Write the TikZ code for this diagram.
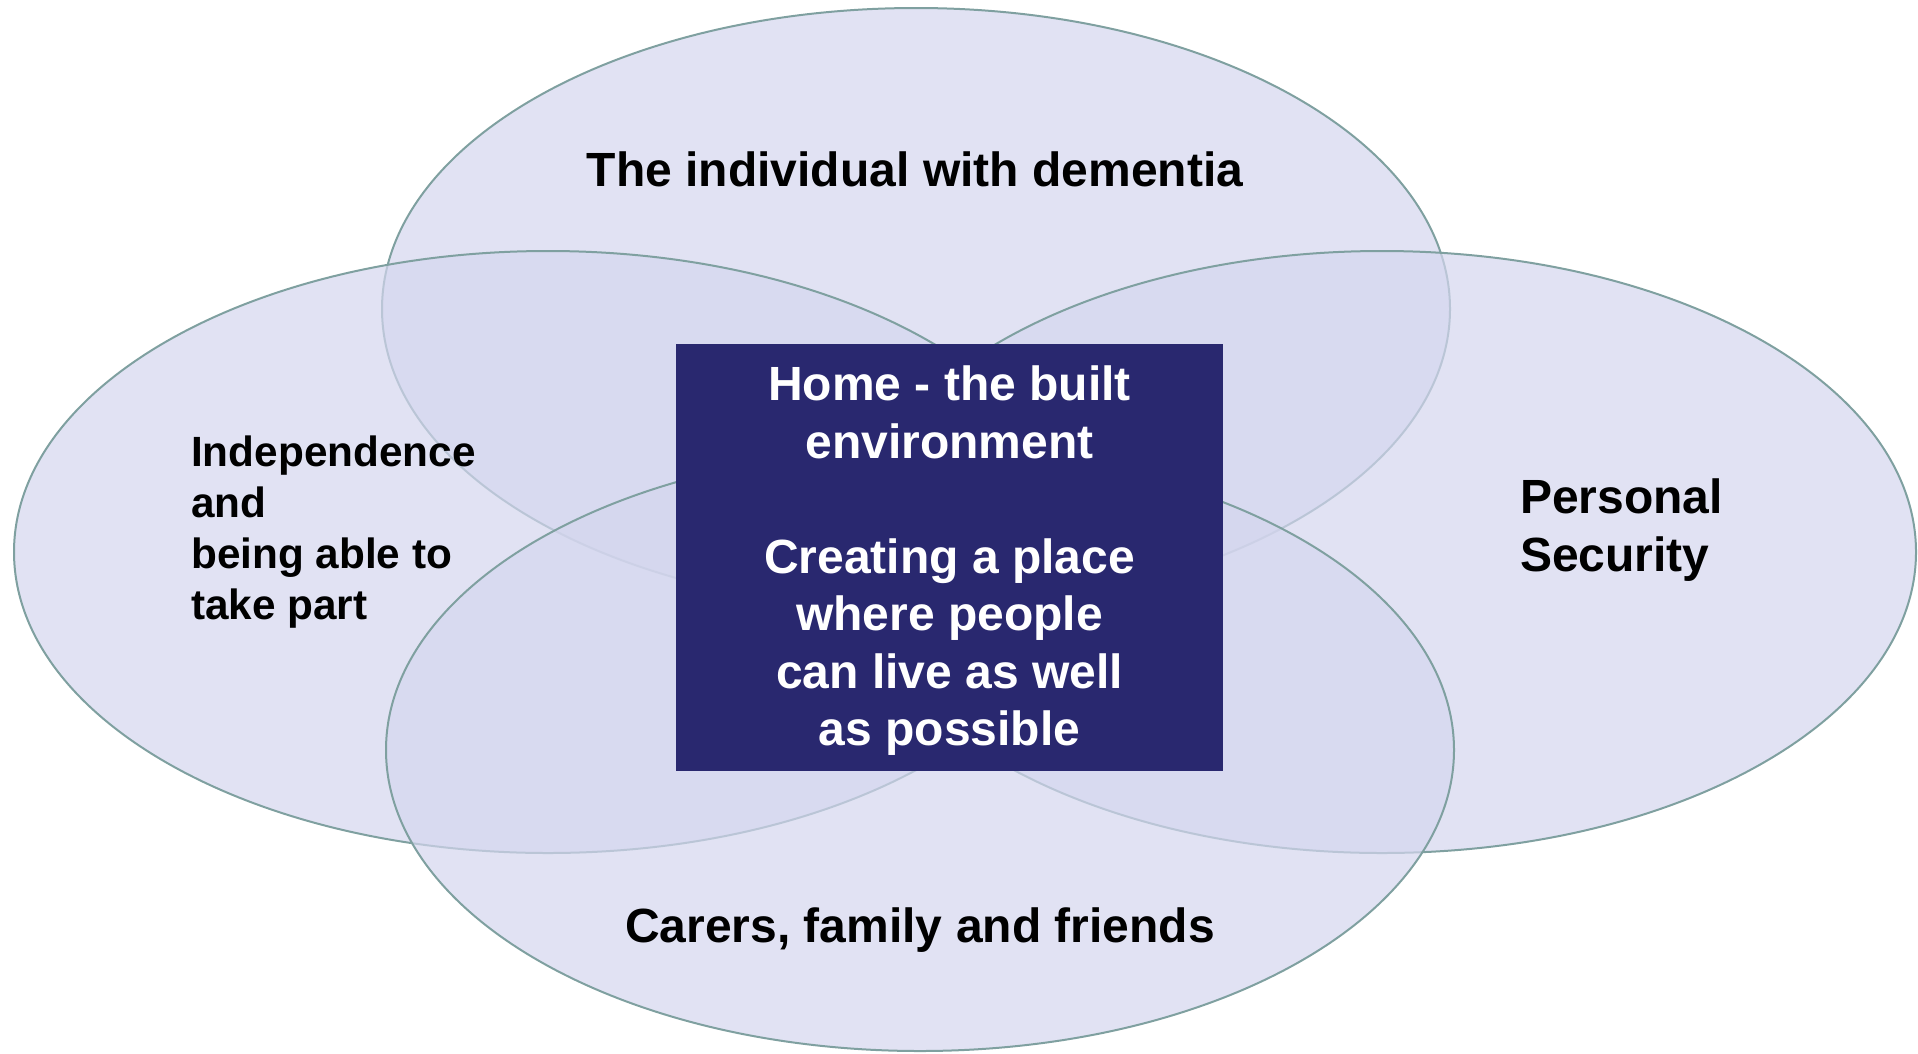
\documentclass[tikz,border=0pt]{standalone}
\usepackage{fontspec}
\setmainfont{Liberation Sans}
\usepackage{tikz}
\usetikzlibrary{shapes, positioning}

\definecolor{ringfill}{RGB}{212,214,238}
\definecolor{ringedge}{RGB}{127,160,160}
\definecolor{homeblue}{RGB}{41,40,111}

\begin{document}
\begin{tikzpicture}[x=1pt, y=-1pt,
		ring/.style={ellipse, draw=ringedge, line width=2pt, fill=ringfill, fill opacity=0.7,
			minimum width=1068pt, minimum height=602pt, inner sep=0pt},
		lbl/.style={inner sep=0pt, font=\fontsize{48}{57.5}\selectfont\bfseries}]
	\useasboundingbox (0,0) rectangle (1918,1053);
	% the four rings
	\node[ring] (person)   at (916,309)  {};
	\node[ring] (indep)    at (548,552)  {};
	\node[ring] (security) at (1382,552) {};
	\node[ring] (carers)   at (920,750)  {};
	% labels
	\node[lbl] (personlbl) at (915,169) {The individual with dementia};
	\node[lbl, align=left, anchor=west, font=\fontsize{42.3}{51}\selectfont\bfseries] (indeplbl) at (191,532)
		{Independence\\and\\being able to\\take part};
	\node[lbl, align=left, anchor=west] (securitylbl) at (1520,530) {Personal\\Security};
	\node[lbl] (carerslbl) at (920,930) {Carers, family and friends};
	% the home in the middle
	\node[fill=homeblue, minimum width=547pt, minimum height=427pt, inner sep=0pt] (home) at (949.5,557.5) {};
	\node[lbl, text=white, align=center] (homelbl) at (949.5,561)
		{Home - the built\\environment\\[57.5pt]Creating a place\\where people\\can live as well\\as possible};
\end{tikzpicture}
\end{document}
